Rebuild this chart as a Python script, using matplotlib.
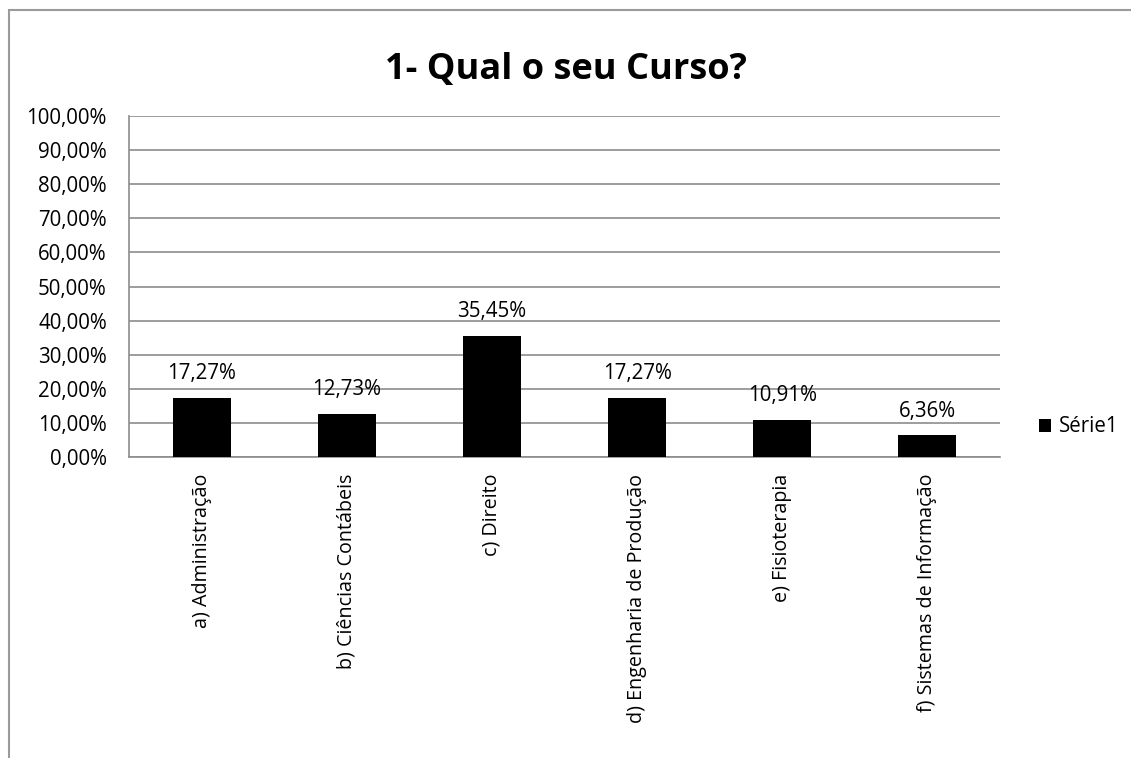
import matplotlib.pyplot as plt
from matplotlib.patches import Rectangle, Patch

# ===============================
# DATA
# ===============================
cursos = [
    'a) Administração',
    'b) Ciências Contábeis',
    'c) Direito',
    'd) Engenharia de Produção',
    'e) Fisioterapia',
    'f) Sistemas de Informação',
]
valores = [17.27, 12.73, 35.45, 17.27, 10.91, 6.36]
titulo = '1- Qual o seu Curso?'
serie = 'Série1'

plt.rcParams['font.family'] = ['Open Sans', 'DejaVu Sans']
GRID = '#8c8c8c'
FS = 14.8

fig = plt.figure(figsize=(11.31, 7.58), dpi=100)

# moldura externa (estilo Excel)
fig.patches.append(Rectangle((9 / 1131, -0.05), 1.2, 0.05 + (1 - 10 / 758),
                             transform=fig.transFigure, fill=False,
                             edgecolor='#9a9a9a', linewidth=1.5))

ax = fig.add_axes([129 / 1131, 1 - 457 / 758, 871 / 1131, 341 / 758])

x = range(len(cursos))
bars = ax.bar(x, valores, width=0.4, color='black', zorder=3, label=serie)

for b, v in zip(bars, valores):
    ax.text(b.get_x() + b.get_width() / 2, v + 4.0, f'{v:.2f}%'.replace('.', ','),
            ha='center', va='bottom', fontsize=FS)

ax.set_xlim(-0.5, len(cursos) - 0.5)
ax.set_ylim(0, 100)
ax.set_yticks(range(0, 101, 10))
ax.set_yticklabels([f'{t},00%' for t in range(0, 101, 10)], fontsize=FS)
ax.set_xticks(list(x))
ax.set_xticklabels(cursos, rotation=90, fontsize=14.2, va='top', ha='center')
ax.tick_params(length=0)
ax.tick_params(axis='y', pad=16)
ax.tick_params(axis='x', pad=12)

ax.grid(axis='y', color=GRID, linewidth=1.2, zorder=0)
for s in ['top', 'right']:
    ax.spines[s].set_visible(False)
for s in ['left', 'bottom']:
    ax.spines[s].set_color(GRID)
    ax.spines[s].set_linewidth(1.2)

fig.text(566 / 1131, 1 - 70 / 758, titulo, ha='center', va='center',
         fontsize=26, fontweight='bold')

fig.legend(handles=[Patch(facecolor='black', label=serie)], loc='center left',
           bbox_to_anchor=(1020 / 1131, 1 - 427 / 758), frameon=False,
           fontsize=FS, handlelength=0.6, handleheight=0.6, handletextpad=0.4)

fig.savefig('out.png', dpi=100)
